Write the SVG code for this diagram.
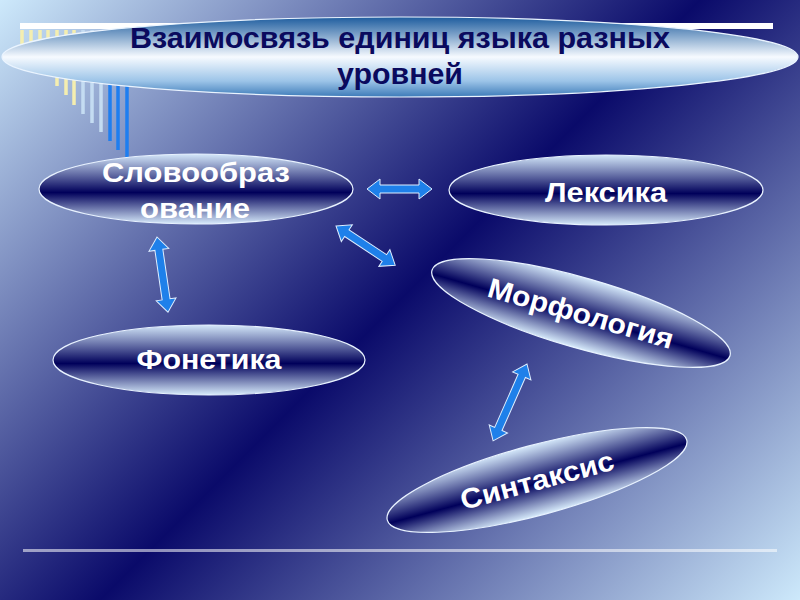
<svg xmlns="http://www.w3.org/2000/svg" width="800" height="600" viewBox="0 0 800 600">
  <defs>
    <linearGradient id="bg" gradientUnits="userSpaceOnUse" x1="0" y1="0" x2="700" y2="700">
      <stop offset="0" stop-color="#cde9fb"/>
      <stop offset="0.5" stop-color="#0a0a6a"/>
      <stop offset="1" stop-color="#cde9fb"/>
    </linearGradient>
    <linearGradient id="titleFill" x1="0" y1="0" x2="0" y2="1">
      <stop offset="0" stop-color="#1d5c9e"/>
      <stop offset="0.5" stop-color="#f6faff"/>
      <stop offset="0.8" stop-color="#9cc4e8"/>
      <stop offset="1" stop-color="#3c7ab8"/>
    </linearGradient>
    <linearGradient id="nodeFill" x1="0" y1="0" x2="0" y2="1">
      <stop offset="0" stop-color="#d4e8fa"/>
      <stop offset="0.55" stop-color="#00005a"/>
      <stop offset="1" stop-color="#d8ecfc"/>
    </linearGradient>
    <style>
      .node { fill: url(#nodeFill); stroke: #e8f2ff; stroke-width: 1.2; }
      .lbl { font-family: "Liberation Sans", Arial, sans-serif; font-weight: bold; font-size: 28px; fill: #ffffff; text-anchor: middle; }
      .title { font-family: "Liberation Sans", Arial, sans-serif; font-weight: bold; font-size: 29px; fill: #0a0a5e; text-anchor: middle; }
      .arrow { fill: #1e80ea; stroke: #dfeeff; stroke-width: 1; }
      .yb { stroke: #f4eeb0; stroke-width: 3.5; }
      .lb { stroke: #c4dcf2; stroke-width: 3.5; }
      .bb { stroke: #1e7ef0; stroke-width: 3.5; }
    </style>
  </defs>

  <rect x="0" y="0" width="800" height="600" fill="url(#bg)"/>

  <!-- decoration -->
  <g id="decor">
    <line class="yb" x1="22" y1="30" x2="22" y2="46"/>
    <line class="yb" x1="31" y1="30" x2="31" y2="56"/>
    <line class="yb" x1="40" y1="30" x2="40" y2="66"/>
    <line class="yb" x1="48" y1="30" x2="48" y2="76"/>
    <line class="yb" x1="57" y1="30" x2="57" y2="86"/>
    <line class="yb" x1="66" y1="30" x2="66" y2="95"/>
    <line class="yb" x1="74" y1="30" x2="74" y2="105"/>
    <line class="lb" x1="83" y1="30" x2="83" y2="114"/>
    <line class="lb" x1="92" y1="30" x2="92" y2="123"/>
    <line class="lb" x1="101" y1="30" x2="101" y2="132"/>
    <line class="bb" x1="110" y1="30" x2="110" y2="141"/>
    <line class="bb" x1="118" y1="30" x2="118" y2="150"/>
    <line class="bb" x1="127" y1="30" x2="127" y2="157"/>
    <rect x="20" y="23" width="753" height="6" fill="#ffffff"/>
    <rect x="23" y="549" width="754" height="3" fill="#ffffff" fill-opacity="0.55"/>
  </g>

  <g id="title">
    <ellipse cx="400" cy="57" rx="398" ry="40" fill="url(#titleFill)" stroke="#eaf4ff" stroke-width="1.2"/>
    <text class="title" x="400" y="48" textLength="540" lengthAdjust="spacingAndGlyphs">Взаимосвязь единиц языка разных</text>
    <text class="title" x="400" y="84" textLength="126" lengthAdjust="spacingAndGlyphs">уровней</text>
  </g>

  <g id="connectors">
    <path class="arrow" transform="translate(367,189)" d="M0,0 L13,-10 L13,-4 L52,-4 L52,-10 L65,0 L52,10 L52,4 L13,4 L13,10 Z"/>
    <path class="arrow" transform="translate(336,226) rotate(33.5)" d="M0,0 L13,-10 L13,-4 L58,-4 L58,-10 L71,0 L58,10 L58,4 L13,4 L13,10 Z"/>
    <path class="arrow" transform="translate(157,237) rotate(81.7)" d="M0,0 L13,-10 L13,-4 L63,-4 L63,-10 L76,0 L63,10 L63,4 L13,4 L13,10 Z"/>
    <path class="arrow" transform="translate(527,364) rotate(113.8)" d="M0,0 L13,-10 L13,-4 L71,-4 L71,-10 L84,0 L71,10 L71,4 L13,4 L13,10 Z"/>
  </g>

  <g id="slovoobrazovanie">
    <ellipse class="node" cx="196" cy="189" rx="157" ry="35"/>
    <text class="lbl" x="196" y="182" textLength="188" lengthAdjust="spacingAndGlyphs">Словообраз</text>
    <text class="lbl" x="195" y="218" textLength="110" lengthAdjust="spacingAndGlyphs">ование</text>
  </g>

  <g id="leksika">
    <ellipse class="node" cx="606" cy="190" rx="157" ry="35"/>
    <text class="lbl" x="606" y="202" textLength="122" lengthAdjust="spacingAndGlyphs">Лексика</text>
  </g>

  <g id="fonetika">
    <ellipse class="node" cx="209" cy="360" rx="156" ry="35"/>
    <text class="lbl" x="209" y="369" textLength="145" lengthAdjust="spacingAndGlyphs">Фонетика</text>
  </g>

  <g id="morfologiya" transform="translate(581,313) rotate(16)">
    <ellipse class="node" cx="0" cy="0" rx="155" ry="35"/>
    <text class="lbl" x="0" y="10" textLength="192" lengthAdjust="spacingAndGlyphs">Морфология</text>
  </g>

  <g id="sintaksis" transform="translate(537,480) rotate(-15)">
    <ellipse class="node" cx="0" cy="0" rx="155" ry="35"/>
    <text class="lbl" x="0" y="10" textLength="158" lengthAdjust="spacingAndGlyphs">Синтаксис</text>
  </g>
</svg>
